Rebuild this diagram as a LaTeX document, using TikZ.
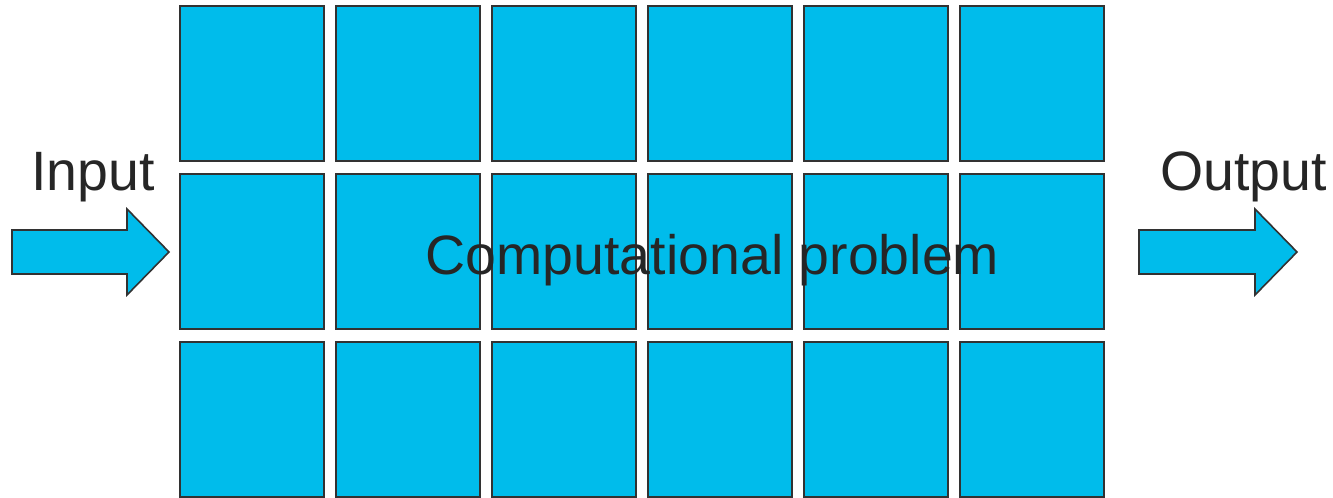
\documentclass[tikz,border=0pt]{standalone}
\usepackage{fontspec}
\setmainfont{Liberation Sans}
\definecolor{cellblue}{RGB}{0,188,235}
\definecolor{edgegray}{RGB}{50,50,50}
\definecolor{textgray}{RGB}{38,38,38}
\begin{document}
\begin{tikzpicture}[x=0.75pt,y=-0.75pt,
  cell/.style={draw=edgegray,fill=cellblue,line width=1.5pt},
  bigarrow/.style={draw=edgegray,fill=cellblue,line width=1.2pt,line join=miter},
  label/.style={inner sep=0pt,text=textgray,font=\fontsize{41.6}{50}\selectfont}]
\useasboundingbox (0,0) rectangle (1333,498);
\fill[white] (0,0) rectangle (1333,498);
\foreach \c in {0,...,5}{
  \foreach \r in {0,1,2}{
    \draw[cell] ({180+156*\c},{6+168*\r}) rectangle ({324+156*\c},{161+168*\r});
  }
}
\node[label,anchor=base] (prob) at (712.5,275) {Computational problem};
\node[label,anchor=base west] (inlbl) at (31,191) {Input};
\node[label,anchor=base east] (outlbl) at (1327,191) {Output};
\draw[bigarrow] (12,230) -- (127,230) -- (127,209) -- (169,252) -- (127,295) -- (127,274) -- (12,274) -- cycle;
\draw[bigarrow] (1139,230) -- (1255,230) -- (1255,209) -- (1297,252) -- (1255,295) -- (1255,274) -- (1139,274) -- cycle;
\end{tikzpicture}
\end{document}
